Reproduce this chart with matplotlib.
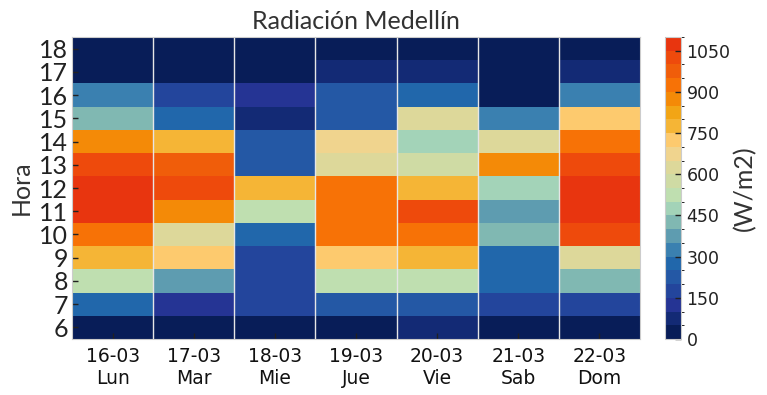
import numpy as np
import matplotlib
matplotlib.use("Agg")
import matplotlib.pyplot as plt
from matplotlib.colors import ListedColormap, BoundaryNorm

# hourly radiation (W/m2), hours 6..18
horas = list(range(6, 19))
fechas = ["16-03", "17-03", "18-03", "19-03", "20-03", "21-03", "22-03"]
dias = ["Lun", "Mar", "Mie", "Jue", "Vie", "Sab", "Dom"]

lun = [20, 270, 520, 770, 930, 1060, 1070, 1020, 870, 420, 320, 10, 5]
mar = [15, 130, 370, 720, 620, 880, 1010, 970, 780, 280, 180, 20, 10]
mie = [20, 170, 190, 180, 280, 520, 780, 230, 220, 70, 120, 15, 5]
jue = [20, 240, 530, 720, 920, 940, 930, 630, 680, 220, 230, 60, 10]
vie = [60, 210, 510, 760, 910, 1000, 790, 570, 480, 610, 290, 80, 10]
sab = [20, 160, 290, 260, 420, 380, 470, 860, 640, 330, 30, 10, 5]
dom = [20, 190, 440, 640, 1020, 1080, 1060, 1010, 900, 740, 310, 90, 10]

# 22 steps of 50 W/m2, sampled from the colourbar
colores = ["#081d58", "#132a75", "#253494", "#23459c", "#2458a5", "#2167ab",
           "#3a80b0", "#5e9cb0", "#80b8b2", "#a3d3b8", "#bfdfb0", "#cfdba4",
           "#ddd89a", "#f0d48e", "#fdca6e", "#f5b536", "#f2a515", "#f48a07",
           "#f77206", "#f05d0a", "#ee4a0c", "#e8350f"]
niveles = np.arange(0, 1101, 50)

datos = np.array([lun, mar, mie, jue, vie, sab, dom]).T   # rows = hours

cmap = ListedColormap(colores)
norm = BoundaryNorm(niveles, cmap.N)

fig = plt.figure(figsize=(7.67, 3.95), dpi=100)
ax = fig.add_axes([0.0939, 0.1418, 0.7405, 0.7645])
cax = fig.add_axes([0.867, 0.1418, 0.0209, 0.7645])

x = np.arange(len(fechas) + 1) - 0.5
y = np.arange(len(horas) + 1) + horas[0] - 0.5
mesh = ax.pcolormesh(x, y, datos, cmap=cmap, norm=norm)

for xc in x[1:-1]:
    ax.axvline(xc, color="#e6e6e6", lw=1)

ax.set_xticks(np.arange(len(fechas)))
ax.set_xticklabels([f"{f}\n{d}" for f, d in zip(fechas, dias)],
                   fontsize=13.5, family="DejaVu Sans", color="#111111")
ax.set_yticks(horas)
ax.set_yticklabels([str(h) for h in horas], fontsize=18, family="Lato", color="#222222")
ax.tick_params(direction="in", length=4, width=1, color="#222222", pad=3)
ax.tick_params(axis="x", pad=6)
ax.set_ylabel("Hora", fontsize=18, family="Lato", color="#333333", labelpad=4)
ax.set_title("Radiación Medellín", fontsize=18, family="Lato", color="#333333", pad=6)
for s in ax.spines.values():
    s.set_color("#cccccc")

cb = fig.colorbar(mesh, cax=cax, ticks=np.arange(0, 1051, 150))
cb.outline.set_edgecolor("#cccccc")
cb.ax.tick_params(direction="in", length=4, width=1, color="#222222", labelsize=12.5, pad=4)
for t in cb.ax.get_yticklabels():
    t.set_family("DejaVu Sans")
    t.set_color("#222222")
cb.set_label("(W/m2)", fontsize=18, family="Lato", color="#333333", labelpad=2)

fig.savefig("out.png", dpi=100)
